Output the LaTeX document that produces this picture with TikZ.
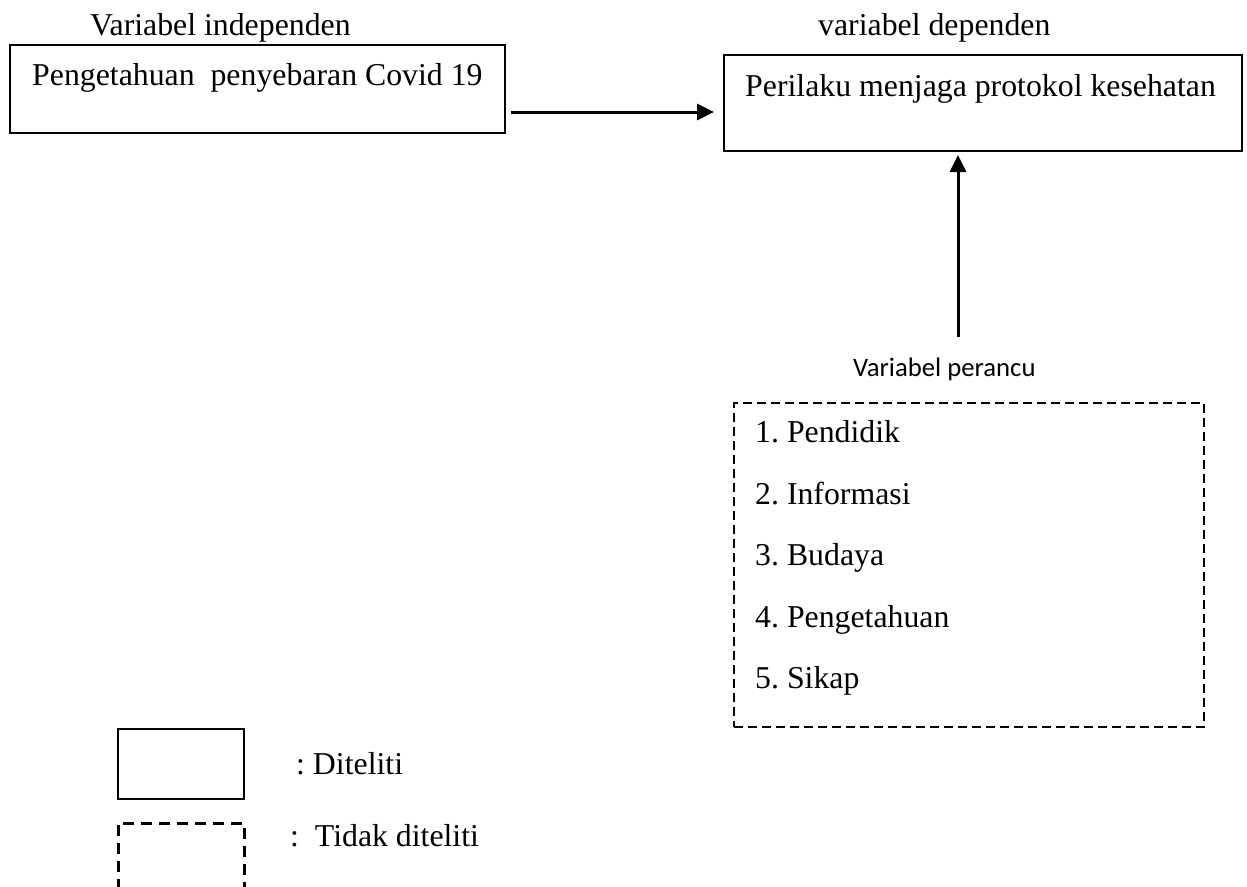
\documentclass[tikz,border=0pt]{standalone}
\usepackage{fontspec}
\setmainfont{Liberation Serif}
\newfontfamily\calfont{Carlito}
\usetikzlibrary{arrows.meta,calc}
\frenchspacing
\tikzset{
  solidbox/.style={draw, line width=2pt, rectangle, inner sep=0pt},
  dashbox/.style={draw, line width=1.5pt, rectangle, inner sep=0pt, dash pattern=on 9pt off 5pt},
  legdash/.style={draw, line width=3pt, dash pattern=on 11pt off 7pt},
  arr/.style={line width=3pt, -{Triangle[length=17pt,width=16pt]}},
  txt/.style={anchor=base west, inner sep=0pt, font=\fontsize{31.8}{38}\selectfont},
  stxt/.style={anchor=base west, inner sep=0pt, font=\calfont\fontsize{26.7}{32}\selectfont}
}
\begin{document}
\begin{tikzpicture}[x=1pt,y=-1pt]
\useasboundingbox (0,0) rectangle (1247,886);
% boxes
\node[solidbox, minimum width=495pt, minimum height=88pt] (ind) at (257.5,89) {};
\node[solidbox, minimum width=518pt, minimum height=96pt] (dep) at (983,103) {};
\node[dashbox, minimum width=470pt, minimum height=324pt] (conf) at (969,565) {};
% texts
\node[txt] (tind) at (90,35) {Variabel independen};
\node[txt] (tdep) at (818,35) {variabel dependen};
\node[txt] (lind) at (32,85) {Pengetahuan\ \ penyebaran Covid 19};
\node[txt] (ldep) at (745,96) {Perilaku menjaga protokol kesehatan};
\node[stxt] (tconf) at (853,376) {Variabel perancu};
\node[txt] (i1) at (755,442) {1. Pendidik};
\node[txt] (i2) at (755,504) {2. Informasi};
\node[txt] (i3) at (755,565) {3. Budaya};
\node[txt] (i4) at (755,627) {4. Pengetahuan};
\node[txt] (i5) at (755,688) {5. Sikap};
% arrows
\draw[arr] ($(ind.east)+(5,23)$) -- ($(dep.west |- ind.east)+(-9,23)$);
\coordinate (cstart) at ($(conf.north)+(-11,-65)$);
\draw[arr] (cstart) -- ($(dep.south)+(-25,3)$);
% legend
\node[solidbox, minimum width=126pt, minimum height=70pt] (legs) at (181,764) {};
\node[txt] (legst) at (296,774) {: Diteliti};
\coordinate (ld1) at (118,890);
\coordinate (ld2) at (118,823);
\coordinate (ld3) at (244,823);
\coordinate (ld4) at (244,890);
\draw[legdash] (ld1) -- (ld2) -- (ld3) -- (ld4);
\node[txt] (legdt) at (290,846) {:\ \ Tidak diteliti};
\end{tikzpicture}
\end{document}
